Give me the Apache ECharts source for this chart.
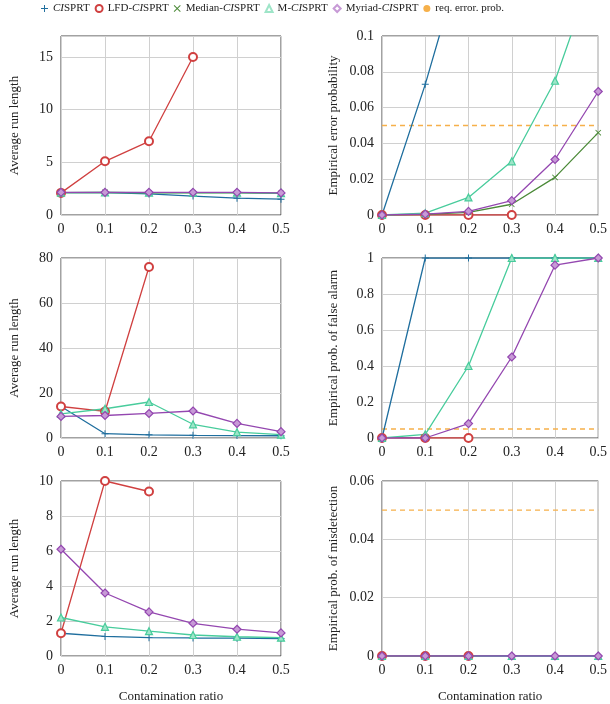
<!DOCTYPE html>
<html>
<head>
<meta charset="utf-8">
<script src="https://cdn.jsdelivr.net/npm/echarts@6/dist/echarts.min.js"></script>
<style>
  html, body { margin: 0; padding: 0; background: #fff; }
  #chart { width: 610px; height: 704px; }
</style>
</head>
<body>
<div id="chart"></div>
<script>
// contamination ratios (x axis of every panel)
const ratios = [0, 0.1, 0.2, 0.3, 0.4, 0.5];

// panel 1: average run length (top left)
const arl1Cis = [2.13, 2.12, 2.0, 1.8, 1.6, 1.5];
const arl1Lfd = [2.1, 5.1, 7.0, 15.0];
const arl1Med = [2.13, 2.15, 2.1, 2.1, 2.1, 2.05];
const arl1M = [2.13, 2.15, 2.12, 2.12, 2.12, 2.08];
const arl1Myr = [2.15, 2.15, 2.15, 2.15, 2.15, 2.1];

// panel 2: empirical error probability (top right)
const err1Cis = [0, 0.073, 0.156, 0.24, 0.32, 0.4];
const err1Lfd = [0, 0, 0, 0];
const err1Med = [0, 0.0003, 0.0015, 0.006, 0.021, 0.046];
const err1M = [0, 0.001, 0.0098, 0.030, 0.075, 0.144];
const err1Myr = [0, 0.0005, 0.002, 0.008, 0.031, 0.069];

// panel 3: average run length (middle left)
const arl2Cis = [14.0, 1.9, 1.4, 1.2, 1.1, 1.0];
const arl2Lfd = [14.0, 11.8, 76.0];
const arl2M = [10.7, 13.0, 16.0, 6.1, 2.6, 1.5];
const arl2Myr = [9.6, 10.0, 10.9, 12.0, 6.5, 2.8];

// panel 4: empirical prob. of false alarm (middle right)
const fa2Cis = [0, 1, 1, 1, 1, 1];
const fa2Lfd = [0, 0, 0];
const fa2M = [0, 0.02, 0.40, 1, 1, 1];
const fa2Myr = [0, 0, 0.08, 0.45, 0.96, 1];

// panel 5: average run length (bottom left)
const arl3Cis = [1.3, 1.12, 1.05, 1.03, 1.02, 1.0];
const arl3Lfd = [1.3, 10.0, 9.4];
const arl3M = [2.2, 1.67, 1.42, 1.2, 1.1, 1.05];
const arl3Myr = [6.1, 3.6, 2.52, 1.87, 1.53, 1.32];

// panel 6: empirical prob. of misdetection (bottom right)
const md3Cis = [0, 0, 0, 0, 0, 0];
const md3Lfd = [0, 0, 0];
const md3M = [0, 0, 0, 0, 0, 0];
const md3Myr = [0, 0, 0, 0, 0, 0];

const reqProb = 0.05;

// y axis ranges per panel: [min, max, interval]
const yRanges = [[0, 17, 5], [0, 0.1, 0.02], [0, 80, 20], [0, 1, 0.2], [0, 10, 2], [0, 0.06, 0.02]];
const yNames = ['Average run length', 'Empirical error probability',
  'Average run length', 'Empirical prob. of false alarm',
  'Average run length', 'Empirical prob. of misdetection'];

const names = {
  cis: '{i|CI}SPRT',
  lfd: 'LFD-{i|CI}SPRT',
  med: 'Median-{i|CI}SPRT',
  m: 'M-{i|CI}SPRT',
  myr: 'Myriad-{i|CI}SPRT',
  req: 'req. error. prob.'
};
const colors = {
  cis: '#1f6e9e', lfd: '#d04040', med: '#4b8a38', m: '#48cc9c', myr: '#9447b0', req: '#f6b04a'
};
const plusPath = 'path://M4.3,0H5.7V4.3H10V5.7H5.7V10H4.3V5.7H0V4.3H4.3Z';
const crossPath = 'path://M1,0L5,4L9,0L10,1L6,5L10,9L9,10L5,6L1,10L0,9L4,5L0,1Z';

const font = 'Liberation Serif';

const chart = echarts.init(document.getElementById('chart'));

const grids = [];
const xAxes = [];
const yAxes = [];
const lefts = [61, 382];
const tops = [36, 258, 481];
const heights = [179, 180, 181];
for (let p = 0; p < 6; p++) {
  const row = Math.floor(p / 2), col = p % 2;
  grids.push({
    left: lefts[col], top: tops[row], width: 220, height: heights[row],
    show: true, borderColor: '#444', borderWidth: 1, backgroundColor: 'transparent'
  });
  xAxes.push({
    gridIndex: p, type: 'value', min: 0, max: 0.5, interval: 0.1,
    name: row === 2 ? 'Contamination ratio' : '',
    nameLocation: 'middle', nameGap: 34,
    nameTextStyle: { fontFamily: font, fontSize: 13, color: '#222' },
    axisLine: { show: false }, axisTick: { show: false },
    axisLabel: { fontFamily: font, fontSize: 14, color: '#222', margin: 7 },
    splitLine: { show: true, lineStyle: { color: '#d0d0d0', width: 1 } }
  });
  const r = yRanges[p];
  yAxes.push({
    gridIndex: p, type: 'value', min: r[0], max: r[1], interval: r[2],
    name: yNames[p], nameLocation: 'middle', nameGap: col === 0 ? 40 : 42,
    nameTextStyle: { fontFamily: font, fontSize: 13, color: '#222' },
    axisLine: { show: false }, axisTick: { show: false },
    axisLabel: { fontFamily: font, fontSize: 14, color: '#222', margin: 8, showMaxLabel: p !== 0 },
    splitLine: { show: true, lineStyle: { color: '#d0d0d0', width: 1 } }
  });
}

function pts(vals) {
  return vals.map((v, i) => [ratios[i], v]);
}

const symbols = {
  cis: { symbol: plusPath, symbolSize: 7, itemStyle: { color: colors.cis } },
  lfd: { symbol: 'emptyCircle', symbolSize: 8, itemStyle: { color: colors.lfd, borderWidth: 1.3 } },
  med: { symbol: crossPath, symbolSize: 6, itemStyle: { color: colors.med } },
  m: { symbol: 'triangle', symbolSize: 7, itemStyle: { color: '#9ee5c8', borderColor: colors.m, borderWidth: 1.2 } },
  myr: { symbol: 'diamond', symbolSize: 8, itemStyle: { color: '#c79ad6', borderColor: colors.myr, borderWidth: 1.2 } }
};

function line(key, p, vals) {
  const s = symbols[key];
  return {
    name: names[key], type: 'line', xAxisIndex: p, yAxisIndex: p,
    data: pts(vals), symbol: s.symbol, symbolSize: s.symbolSize,
    showAllSymbol: true,
    itemStyle: s.itemStyle,
    lineStyle: { color: colors[key], width: 1.3 },
    clip: true, animation: false, z: 3
  };
}

function reqLine(p) {
  return {
    name: names.req, type: 'line', xAxisIndex: p, yAxisIndex: p,
    data: [[0, reqProb], [0.5, reqProb]], symbol: 'none',
    itemStyle: { color: colors.req },
    lineStyle: { color: colors.req, width: 1.3, type: [5, 4] },
    animation: false, z: 2
  };
}

const series = [
  line('cis', 0, arl1Cis), line('lfd', 0, arl1Lfd), line('med', 0, arl1Med), line('m', 0, arl1M), line('myr', 0, arl1Myr),
  reqLine(1),
  line('cis', 1, err1Cis), line('lfd', 1, err1Lfd), line('med', 1, err1Med), line('m', 1, err1M), line('myr', 1, err1Myr),
  line('cis', 2, arl2Cis), line('lfd', 2, arl2Lfd), line('m', 2, arl2M), line('myr', 2, arl2Myr),
  reqLine(3),
  line('cis', 3, fa2Cis), line('lfd', 3, fa2Lfd), line('m', 3, fa2M), line('myr', 3, fa2Myr),
  line('cis', 4, arl3Cis), line('lfd', 4, arl3Lfd), line('m', 4, arl3M), line('myr', 4, arl3Myr),
  reqLine(5),
  line('cis', 5, md3Cis), line('lfd', 5, md3Lfd), line('m', 5, md3M), line('myr', 5, md3Myr)
];

const option = {
  backgroundColor: '#fff',
  animation: false,
  legend: {
    top: 0, left: 36, padding: [3, 5],
    itemWidth: 7, itemHeight: 7, itemGap: 5,
    data: [
      { name: names.cis, icon: plusPath },
      { name: names.lfd, icon: 'emptyCircle' },
      { name: names.med, icon: crossPath },
      { name: names.m, icon: 'emptyTriangle' },
      { name: names.myr, icon: 'emptyDiamond' },
      { name: names.req, icon: 'circle' }
    ],
    textStyle: {
      fontFamily: font, fontSize: 11, color: '#222',
      rich: { i: { fontFamily: font, fontStyle: 'italic', fontSize: 11, color: '#222' } }
    }
  },
  grid: grids,
  xAxis: xAxes,
  yAxis: yAxes,
  series: series
};

chart.setOption(option);
</script>
</body>
</html>
